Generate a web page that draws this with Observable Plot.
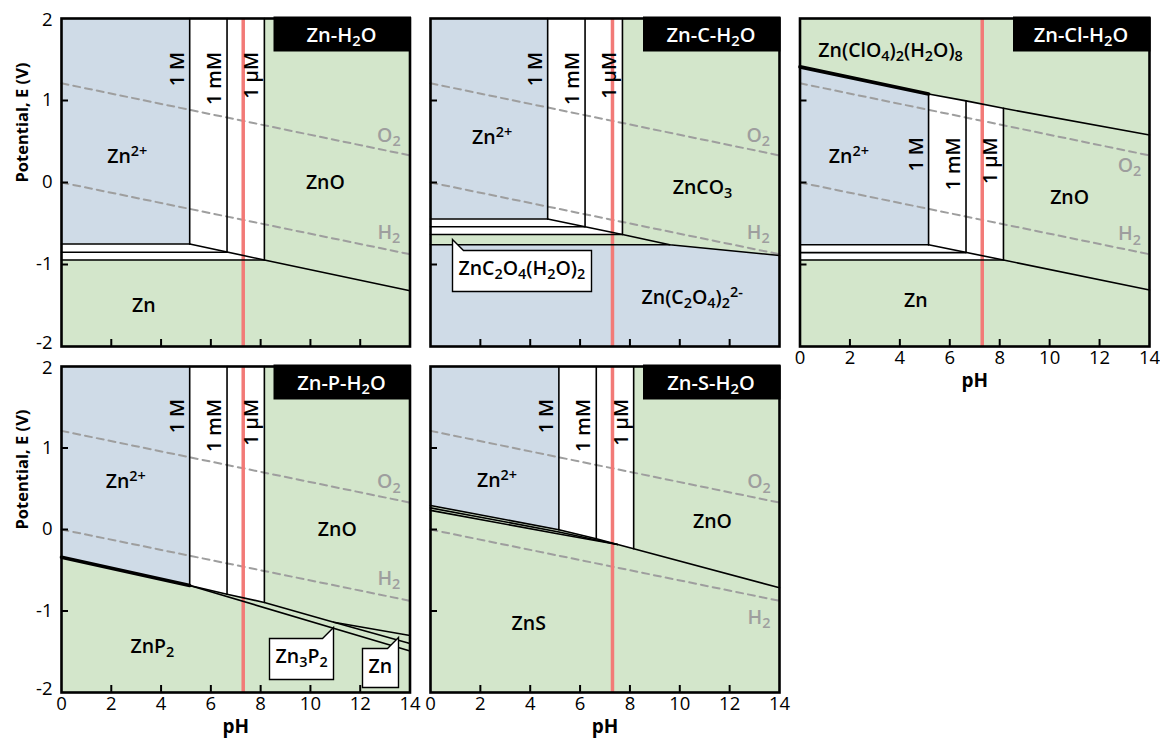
<!DOCTYPE html>
<html><head><meta charset="utf-8">
<script src="https://cdn.jsdelivr.net/npm/d3@7"></script>
<script src="https://cdn.jsdelivr.net/npm/@observablehq/plot@0.6"></script>
<style>
body { margin:0; background:#fff; }
#chart { position:relative; width:1160px; height:748px; overflow:hidden; background:#fff; }
#chart > svg { position:absolute; }
</style></head>
<body><div id="chart"></div>
<script>
// ---------------- data ----------------
const xTickLabels = [0, 2, 4, 6, 8, 10, 12, 14];
const xTicksInner = [2, 4, 6, 8, 10, 12];
const yTickLabels = [-2, -1, 0, 1, 2];
const yTicksInner = [-1, 0, 1];
const concLabels = ["1 M", "1 mM", "1 µM"];
const pHmark = [7.3];
const o2Line = [[0, 1.21], [14, 0.33]];
const h2Line = [[0, 0], [14, -0.875]];

// Zn-H2O  (points: [pH, E]; fills: [pH, Elow, Ehigh])
const h2oTitle = "Zn-H₂O";
const h2oBlue = [[0, -0.75, 2], [5.15, -0.75, 2]];
const h2oWhite = [[0, -0.945, -0.75], [5.15, -0.945, -0.75], [5.15, -0.945, 2], [8.15, -0.945, 2]];
const h2oLines = [
  [[0, -0.75], [5.15, -0.75]],
  [[0, -0.85], [6.65, -0.85]],
  [[0, -0.945], [8.15, -0.945]],
  [[5.15, 2], [5.15, -0.75]],
  [[6.65, 2], [6.65, -0.85]],
  [[8.15, 2], [8.15, -0.945]],
  [[5.15, -0.75], [8.15, -0.945], [14, -1.32]]
];
const h2oConcPH = [5.15, 6.65, 8.15];
const h2oConcE = 1.59;
const h2oLabels = [["Zn²⁺", 2.64, 0.31], ["ZnO", 10.6, 0], ["Zn", 3.31, -1.5]];
const h2oGas = [["O₂", 13.15, 0.57], ["H₂", 13.15, -0.61]];

// Zn-C-H2O
const cTitle = "Zn-C-H₂O";
const cGreenCO3 = [[7.7, -0.635, 2], [9.6, -0.76, 2], [14, -0.89, 2]];
const cGreenOx = [[0, -0.76, -0.635], [7.7, -0.76, -0.635], [9.6, -0.76, -0.76]];
const cWhite = [[0, -0.635, -0.445], [4.7, -0.635, -0.445], [4.7, -0.635, 2], [7.7, -0.635, 2]];
const cLines = [
  [[0, -0.445], [4.7, -0.445]],
  [[0, -0.54], [6.2, -0.54]],
  [[0, -0.635], [7.7, -0.635]],
  [[0, -0.76], [9.6, -0.76]],
  [[4.7, 2], [4.7, -0.445]],
  [[6.2, 2], [6.2, -0.54]],
  [[7.7, 2], [7.7, -0.635]],
  [[4.7, -0.445], [7.7, -0.635], [9.6, -0.76], [14, -0.89]]
];
const cConcPH = [4.7, 6.2, 7.7];
const cConcE = 1.59;
const cLabels = [["Zn²⁺", 2.47, 0.55], ["ZnCO₃", 10.91, -0.06], ["Zn(C₂O₄)₂²⁻", 10.5, -1.4]];
const cGas = [["O₂", 13.15, 0.57], ["H₂", 13.15, -0.61]];
const cCallouts = [["ZnC₂O₄(H₂O)₂", 0.88, -0.7]];

// Zn-Cl-H2O
const clTitle = "Zn-Cl-H₂O";
const clBlue = [[0, -0.76, 1.41], [5.15, -0.76, 1.08]];
const clWhite = [[0, -0.945, -0.76], [5.15, -0.945, -0.76], [5.15, -0.945, 1.08], [6.65, -0.945, 0.995], [8.15, -0.945, 0.905]];
const clLines = [
  [[5.15, 1.08], [6.65, 0.995], [8.15, 0.905], [14, 0.58]],
  [[0, -0.76], [5.15, -0.76]],
  [[0, -0.855], [6.65, -0.855]],
  [[0, -0.945], [8.15, -0.945]],
  [[5.15, 1.08], [5.15, -0.76]],
  [[6.65, 0.995], [6.65, -0.855]],
  [[8.15, 0.905], [8.15, -0.945]],
  [[5.15, -0.76], [8.15, -0.945], [14, -1.31]]
];
const clThick = [[[0, 1.41], [5.15, 1.08]]];
const clConcPH = [5.15, 6.65, 8.15];
const clConcE = 0.55;
const clLabels = [["Zn(ClO₄)₂(H₂O)₈", 3.63, 1.61], ["Zn²⁺", 1.96, 0.31], ["ZnO", 10.8, -0.18], ["Zn", 4.64, -1.44]];
const clGas = [["O₂", 13.2, 0.21], ["H₂", 13.2, -0.63]];

// Zn-P-H2O
const pTitle = "Zn-P-H₂O";
const pBlue = [[0, -0.34, 2], [5.15, -0.687, 2]];
const pWhite = [[5.15, -0.687, 2], [6.65, -0.795, 2], [8.15, -0.895, 2]];
const pLines = [
  [[5.15, 2], [5.15, -0.687]],
  [[6.65, 2], [6.65, -0.795]],
  [[8.15, 2], [8.15, -0.895]],
  [[5.15, -0.687], [6.65, -0.795], [8.15, -0.895], [10.94, -1.137], [14, -1.3]],
  [[10.94, -1.137], [14, -1.4]],
  [[5.15, -0.687], [14, -1.49]]
];
const pThick = [[[0, -0.34], [5.15, -0.687]]];
const pConcPH = [5.15, 6.65, 8.15];
const pConcE = 1.6;
const pLabels = [["Zn²⁺", 2.58, 0.58], ["ZnO", 11.08, 0], ["ZnP₂", 3.65, -1.44]];
const pGas = [["O₂", 13.15, 0.58], ["H₂", 13.15, -0.6]];
const pCallouts = [["Zn₃P₂", 10.94, -1.2], ["Zn", 13.55, -1.32]];

// Zn-S-H2O
const sTitle = "Zn-S-H₂O";
const sBlue = [[0, 0.295, 2], [5.15, -0.004, 2]];
const sWhite = [[5.15, -0.004, 2], [6.65, -0.114, 2], [8.15, -0.237, 2]];
const sLines = [
  [[5.15, 2], [5.15, -0.004]],
  [[6.65, 2], [6.65, -0.114]],
  [[8.15, 2], [8.15, -0.237]],
  [[0, 0.295], [5.15, -0.004], [6.65, -0.114], [8.15, -0.237], [14, -0.715]],
  [[0, 0.265], [5.15, -0.03], [7.5, -0.184]],
  [[0, 0.235], [5.15, -0.055], [7.5, -0.184]]
];
const sConcPH = [5.15, 6.65, 8.15];
const sConcE = 1.6;
const sLabels = [["Zn²⁺", 2.67, 0.6], ["ZnO", 11.31, 0.09], ["ZnS", 3.94, -1.16]];
const sGas = [["O₂", 13.18, 0.58], ["H₂", 13.18, -1.08]];

// ---------------- styles ----------------
const BLUE = "#cfdbe7", GREEN = "#d3e6cb", WHITE = "#ffffff", RED = "#f27a77", GRAY = "#9e9e9e";
const FONT = "'Open Sans', 'Noto Sans', sans-serif";
const SVGNS = "http://www.w3.org/2000/svg";
const LABEL_SIZE = 19.5, TICK_SIZE = 18.5;

function titleMark(label) {
  return (index, scales, values, dims) => {
    const right = dims.width - dims.marginRight, top = dims.marginTop;
    const g = d3.create("svg:g");
    g.append("rect").attr("x", right - 136).attr("y", top - 1.5).attr("width", 137.5).attr("height", 35).attr("fill", "black");
    g.append("text").attr("x", right - 68).attr("y", top + 16.5).attr("dy", "0.35em")
      .attr("text-anchor", "middle").attr("fill", "white").attr("font-size", 20).attr("font-weight", 600)
      .attr("font-family", FONT).text(label);
    return g.node();
  };
}

function flat(lines) {
  return lines.flatMap((pts, i) => pts.map(q => ({x: q[0], y: q[1], id: i})));
}

function panel(p) {
  const marks = [];
  marks.push(Plot.frame({fill: p.bg, stroke: null}));
  for (const f of p.fills) marks.push(Plot.areaY(f.pts, {x: d => d[0], y1: d => d[1], y2: d => d[2], fill: f.color}));
  marks.push(Plot.line(o2Line, {x: d => d[0], y: d => d[1], stroke: GRAY, strokeWidth: 2, strokeDasharray: "7,5"}));
  marks.push(Plot.line(h2Line, {x: d => d[0], y: d => d[1], stroke: GRAY, strokeWidth: 2, strokeDasharray: "7,5"}));
  marks.push(Plot.ruleX(pHmark, {x: d => d, stroke: RED, strokeWidth: 3.5}));
  marks.push(Plot.line(flat(p.lines), {x: "x", y: "y", z: "id", stroke: "black", strokeWidth: 1.6}));
  if (p.thick) marks.push(Plot.line(flat(p.thick), {x: "x", y: "y", z: "id", stroke: "black", strokeWidth: 3.6}));
  marks.push(Plot.text(p.labels, {x: d => d[1], y: d => d[2], text: d => d[0], fontSize: LABEL_SIZE, fontWeight: 600, fill: "black"}));
  marks.push(Plot.text(p.gas, {x: d => d[1], y: d => d[2], text: d => d[0], fontSize: LABEL_SIZE, fontWeight: 600, fill: GRAY}));
  marks.push(Plot.text(concLabels.map((t, i) => ({t, x: p.concPH[i], y: p.concE})),
    {x: "x", y: "y", text: "t", rotate: -90, textAnchor: "end", lineAnchor: "bottom", dx: -6, fontSize: 19.5, fontWeight: 600, fill: "black"}));
  marks.push(titleMark(p.title));
  if (p.callouts) {
    if (Plot.tip) {
      marks.push(Plot.tip(p.callouts, {x: d => d[1], y: d => d[2], title: d => d[0], anchor: p.calloutAnchor,
        fill: "white", stroke: "black", strokeWidth: 1.4, fontSize: 19.5, fontWeight: 600, fontFamily: FONT,
        textPadding: 6, pointerSize: 11, pathFilter: "none"}));
    } else {
      marks.push(Plot.text(p.callouts, {x: d => d[1], y: d => d[2], text: d => d[0], fontSize: 19.5, fontWeight: 600,
        stroke: "white", strokeWidth: 4, fill: "black", textAnchor: p.calloutAnchor === "top-left" ? "start" : "end", lineAnchor: "top", dy: 14}));
    }
  }
  // inner tick marks
  marks.push(Plot.axisX(xTicksInner, {anchor: "bottom", tickSize: -7, strokeWidth: 2, fill: "none", label: null}));
  marks.push(Plot.axisY(yTicksInner, {anchor: "left", tickSize: -7, strokeWidth: 2, fill: "none", label: null}));
  if (p.xLabels) {
    marks.push(Plot.text(xTickLabels, {x: d => d, text: d => String(d), frameAnchor: "bottom", lineAnchor: "top", dy: 4,
      fontSize: TICK_SIZE, fontWeight: 500, fill: "black"}));
    marks.push(Plot.text(["pH"], {text: d => d, frameAnchor: "bottom", dy: 40, fontSize: 19, fontWeight: 700, fill: "black"}));
  }
  if (p.yLabels) {
    const inner = yTickLabels.filter(v => v > -2 && v < 2);
    marks.push(Plot.text(inner, {y: d => d, text: d => String(d), frameAnchor: "left", textAnchor: "end", dx: -9,
      fontSize: TICK_SIZE, fontWeight: 500, fill: "black"}));
    marks.push(Plot.text(yTickLabels.filter(v => v === 2), {y: d => d, text: d => String(d), frameAnchor: "left", textAnchor: "end", dx: -9, dy: 2,
      fontSize: TICK_SIZE, fontWeight: 500, fill: "black"}));
    marks.push(Plot.text(yTickLabels.filter(v => v === -2), {y: d => d, text: d => String(d), frameAnchor: "left", textAnchor: "end", dx: -9, dy: -3,
      fontSize: TICK_SIZE, fontWeight: 500, fill: "black"}));
    marks.push(Plot.text(["Potential, E (V)"], {text: d => d, frameAnchor: "left", rotate: -90, dx: -39, fontSize: 16.5, fontWeight: 700, fill: "black"}));
  }
  marks.push(Plot.frame({stroke: "black", strokeWidth: 2.6}));

  const svg = Plot.plot({
    width: p.w, height: p.h,
    marginLeft: p.ml, marginRight: p.mr, marginTop: p.mt, marginBottom: p.mb,
    x: {domain: [0, 14], label: null, axis: null},
    y: {domain: [-2, 2], label: null, axis: null},
    style: {fontFamily: FONT, fontSize: "18px", background: "transparent", overflow: "visible"},
    marks
  });
  svg.style.left = p.left + "px";
  svg.style.top = p.top + "px";
  return svg;
}

function richify(root) {
  const SUB = "₀₁₂₃₄₅₆₇₈₉₊₋", SUP = "⁰¹²³⁴⁵⁶⁷⁸⁹⁺⁻", NORM = "0123456789+-";
  const walker = document.createTreeWalker(root, NodeFilter.SHOW_TEXT);
  const nodes = [];
  while (walker.nextNode()) nodes.push(walker.currentNode);
  for (const node of nodes) {
    const s = node.nodeValue;
    if (![...s].some(c => SUB.includes(c) || SUP.includes(c))) continue;
    const parent = node.parentNode;
    const fs = parseFloat(getComputedStyle(parent).fontSize) || 18;
    const runs = [];
    for (const c of s) {
      let t = "n", ch = c;
      if (SUB.includes(c)) { t = "sub"; ch = NORM[SUB.indexOf(c)]; }
      else if (SUP.includes(c)) { t = "sup"; ch = NORM[SUP.indexOf(c)]; }
      const last = runs[runs.length - 1];
      if (last && last.t === t) last.s += ch; else runs.push({t, s: ch});
    }
    let shift = 0;
    const frag = document.createDocumentFragment();
    for (const r of runs) {
      const ts = document.createElementNS(SVGNS, "tspan");
      const target = r.t === "sub" ? 0.22 * fs : r.t === "sup" ? -0.36 * fs : 0;
      if (target !== shift) ts.setAttribute("dy", (target - shift).toFixed(2));
      shift = target;
      if (r.t !== "n") ts.setAttribute("font-size", (0.74 * fs).toFixed(2));
      ts.textContent = r.s;
      frag.appendChild(ts);
    }
    parent.replaceChild(frag, node);
  }
}

const panels = [
  {title: h2oTitle, bg: GREEN, fills: [{color: WHITE, pts: h2oWhite}, {color: BLUE, pts: h2oBlue}], lines: h2oLines,
   concPH: h2oConcPH, concE: h2oConcE, labels: h2oLabels, gas: h2oGas, yLabels: true, xLabels: false,
   left: 0, top: 0, w: 420, h: 355, ml: 61, mr: 10.5, mt: 18, mb: 9},
  {title: cTitle, bg: BLUE, fills: [{color: GREEN, pts: cGreenCO3}, {color: GREEN, pts: cGreenOx}, {color: WHITE, pts: cWhite}], lines: cLines,
   concPH: cConcPH, concE: cConcE, labels: cLabels, gas: cGas, callouts: cCallouts, calloutAnchor: "top-left", yLabels: false, xLabels: false,
   left: 420, top: 0, w: 370, h: 355, ml: 10, mr: 11, mt: 18, mb: 9},
  {title: clTitle, bg: GREEN, fills: [{color: WHITE, pts: clWhite}, {color: BLUE, pts: clBlue}], lines: clLines, thick: clThick,
   concPH: clConcPH, concE: clConcE, labels: clLabels, gas: clGas, yLabels: false, xLabels: true,
   left: 790, top: 0, w: 370, h: 400, ml: 9.5, mr: 11, mt: 18, mb: 54},
  {title: pTitle, bg: GREEN, fills: [{color: WHITE, pts: pWhite}, {color: BLUE, pts: pBlue}], lines: pLines, thick: pThick,
   concPH: pConcPH, concE: pConcE, labels: pLabels, gas: pGas, callouts: pCallouts, calloutAnchor: "top-right", yLabels: true, xLabels: true,
   left: 0, top: 355, w: 420, h: 393, ml: 61, mr: 10.5, mt: 11, mb: 56},
  {title: sTitle, bg: GREEN, fills: [{color: WHITE, pts: sWhite}, {color: BLUE, pts: sBlue}], lines: sLines,
   concPH: sConcPH, concE: sConcE, labels: sLabels, gas: sGas, yLabels: false, xLabels: true,
   left: 420, top: 355, w: 370, h: 393, ml: 10, mr: 11, mt: 11, mb: 56}
];

const chart = document.getElementById("chart");
for (const p of panels) {
  const svg = panel(p);
  chart.appendChild(svg);
  richify(svg);
}
</script>
</body></html>
